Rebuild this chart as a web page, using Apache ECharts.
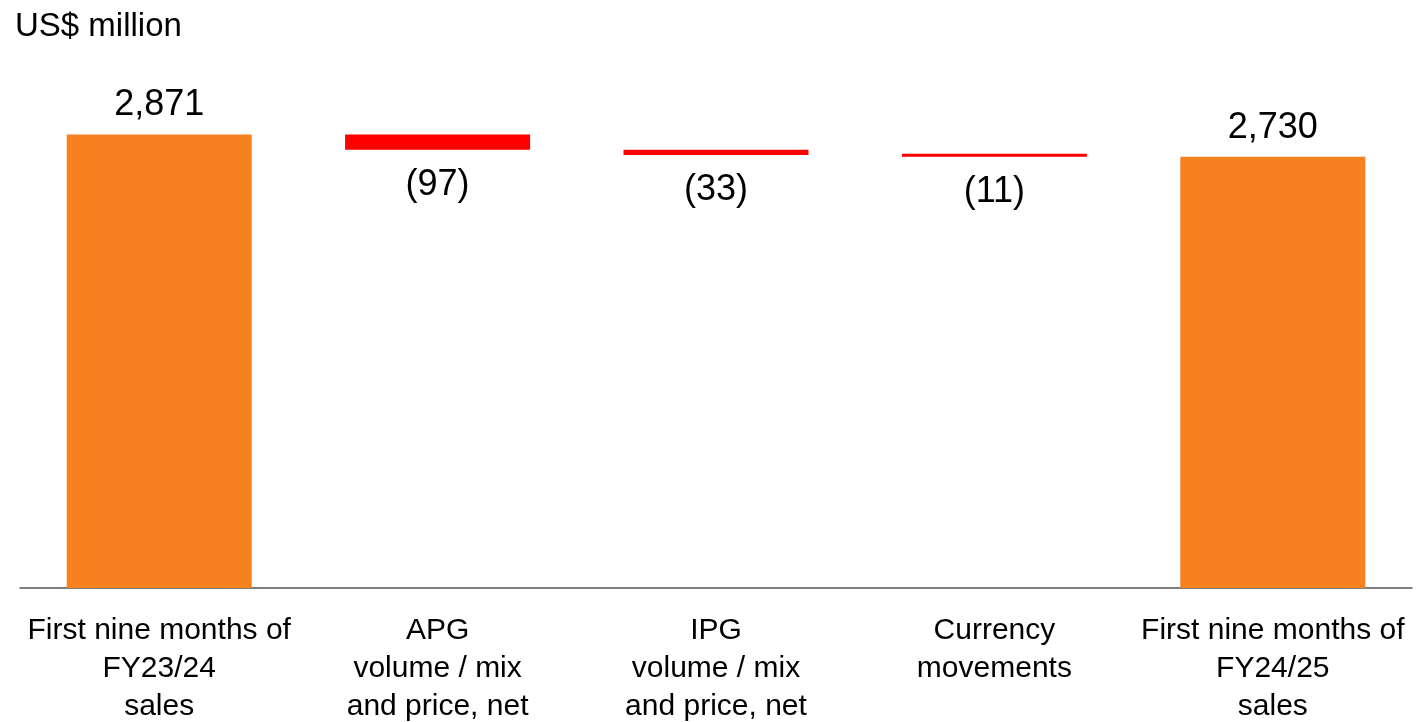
<!DOCTYPE html>
<html>
<head>
<meta charset="utf-8">
<script src="https://cdn.jsdelivr.net/npm/echarts@6/dist/echarts.min.js"></script>
<style>html,body{margin:0;padding:0;background:#fff}#c{width:1428px;height:722px}</style>
</head>
<body>
<div id="c"></div>
<script>
var categories = ['First nine months of\nFY23/24\nsales', 'APG\nvolume / mix\nand price, net', 'IPG\nvolume / mix\nand price, net', 'Currency\nmovements', 'First nine months of\nFY24/25\nsales'];
var startValue = 2871;
var deltas = [-97, -33, -11];
var endValue = 2730;

var FONT = '"Liberation Sans", Arial, Helvetica, sans-serif';
var base = [0];
var visible = [{value: startValue, itemStyle: {color: '#F5821F'}, label: {show: true, position: 'top', distance: 11, formatter: function(){return startValue.toLocaleString('en-US');}}}];
var running = startValue;
deltas.forEach(function(d){
  var next = running + d;
  base.push(Math.min(running, next));
  visible.push({value: Math.abs(d), itemStyle: {color: '#FF0000'}, label: {show: true, position: 'bottom', distance: 17, formatter: function(){return '(' + Math.abs(d) + ')';}}});
  running = next;
});
base.push(0);
visible.push({value: endValue, itemStyle: {color: '#F5821F'}, label: {show: true, position: 'top', distance: 11, formatter: function(){return endValue.toLocaleString('en-US');}}});

var chart = echarts.init(document.getElementById('c'), null, {renderer: 'canvas'});
chart.setOption({
  animation: false,
  backgroundColor: '#fff',
  title: {text: 'US$ million', left: 10, top: 5, textStyle: {fontFamily: FONT, fontSize: 33, fontWeight: 'normal', color: '#000'}},
  grid: {left: 20, right: 16, top: 114, bottom: 134, outerBoundsMode: 'none', containLabel: false},
  xAxis: {
    type: 'category', data: categories,
    axisLine: {lineStyle: {color: '#555', width: 1.5}},
    axisTick: {show: false},
    axisLabel: {interval: 0, margin: 24, fontFamily: FONT, fontSize: 30, lineHeight: 38, color: '#000'}
  },
  yAxis: {type: 'value', min: 0, max: 3000, show: false, splitLine: {show: false}},
  series: [
    {type: 'bar', stack: 'w', data: base, itemStyle: {color: 'transparent'}, barWidth: 185, silent: true},
    {type: 'bar', stack: 'w', data: visible, barWidth: 185, barMinHeight: 3,
     label: {fontFamily: FONT, fontSize: 36, color: '#000'}}
  ]
});
</script>
</body>
</html>
